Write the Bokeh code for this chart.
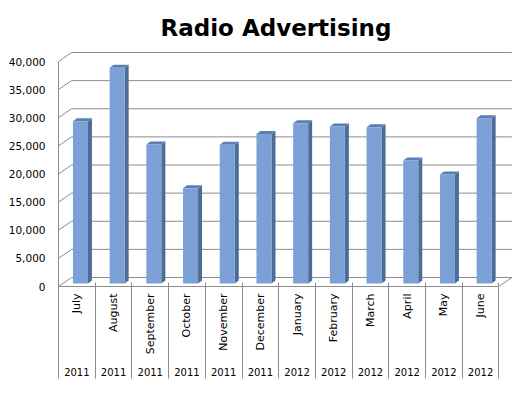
import math
from bokeh.plotting import figure
from bokeh.models import LinearAxis, FixedTicker, NumeralTickFormatter
from bokeh.embed import file_html
from bokeh.resources import INLINE

# ---------------- data ----------------
months = ["July", "August", "September", "October", "November", "December",
          "January", "February", "March", "April", "May", "June"]
years = ["2011", "2011", "2011", "2011", "2011", "2011",
         "2012", "2012", "2012", "2012", "2012", "2012"]
values = [28850, 38350, 24700, 16950, 24650, 26600,
          28500, 27900, 27800, 21850, 19400, 29400]
y_ticks = [0, 5000, 10000, 15000, 20000, 25000, 30000, 35000, 40000]

# ---------------- geometry / style ----------------
W, H = 526, 397
FRAME_L, FRAME_R, FRAME_T, FRAME_B = 58, 515, 48, 286
PX_PER_CAT = 36.7
PX_PER_VAL = 5.625 / 1000.0

n = len(months)
x_lo = -0.5
x_hi = x_lo + (FRAME_R - FRAME_L) / PX_PER_CAT
y_hi = (FRAME_B - FRAME_T) / PX_PER_VAL

back_dx = 13 / PX_PER_CAT
back_dy = 9 / PX_PER_VAL
bar_w = 15 / PX_PER_CAT
bar_off = 3.6 / PX_PER_CAT
side_dx = 4 / PX_PER_CAT
side_dy = 3 / PX_PER_VAL
bar_base = 3 / PX_PER_VAL
floor_stub = 5 / PX_PER_CAT

GRID = "#8c8c8c"
FRONT = "#7aa0d6"
SIDE = "#4d6c97"
TOP = "#5b7fb5"
FONT = "DejaVu Sans"

p = figure(width=W, height=H, x_range=(x_lo, x_hi), y_range=(0, y_hi),
           x_axis_type=None, y_axis_type=None, toolbar_location=None,
           output_backend="svg", min_border_left=FRAME_L,
           min_border_right=W - FRAME_R, min_border_top=FRAME_T,
           min_border_bottom=H - FRAME_B)
p.outline_line_color = None
p.background_fill_color = "white"
p.border_fill_color = "white"

p.title.text = "Radio Advertising"
p.title.text_font = FONT
p.title.text_font_style = "bold"
p.title.text_font_size = "23px"
p.title.text_color = "black"
p.title.align = "left"
p.title.offset = 102
p.title.standoff = 15

# back wall gridlines and left wall diagonals
x_right = x_lo + n
p.segment(x0=[x_lo + back_dx] * len(y_ticks), y0=[v + back_dy for v in y_ticks],
          x1=[x_right + back_dx] * len(y_ticks), y1=[v + back_dy for v in y_ticks],
          line_color=GRID, line_width=1)
p.segment(x0=[x_lo] * len(y_ticks), y0=y_ticks,
          x1=[x_lo + back_dx] * len(y_ticks), y1=[v + back_dy for v in y_ticks],
          line_color=GRID, line_width=1)
# floor right edge
p.segment(x0=[x_right], y0=[0], x1=[x_right + back_dx], y1=[back_dy],
          line_color=GRID, line_width=1)

# bars
xs = list(range(n))
lefts = [x + bar_off - bar_w / 2 for x in xs]
rights = [x + bar_off + bar_w / 2 for x in xs]
tops = [v + bar_base for v in values]

side_xs = [[r, r + side_dx, r + side_dx, r] for r in rights]
side_ys = [[bar_base, bar_base + side_dy, t + side_dy, t] for t in tops]
top_xs = [[l, r, r + side_dx, l + side_dx] for l, r in zip(lefts, rights)]
top_ys = [[t, t, t + side_dy, t + side_dy] for t in tops]

p.patches(side_xs, side_ys, fill_color=SIDE, line_color=None)
p.patches(top_xs, top_ys, fill_color=TOP, line_color=None)
p.quad(left=lefts, right=rights, bottom=[bar_base] * n, top=tops,
       fill_color=FRONT, line_color=None)

# y axis
yaxis = LinearAxis(ticker=FixedTicker(ticks=y_ticks, minor_ticks=[]),
                   formatter=NumeralTickFormatter(format="0,0"),
                   bounds=(0, y_ticks[-1]))
yaxis.major_tick_out = 0
yaxis.major_tick_in = 0
yaxis.minor_tick_out = 0
yaxis.minor_tick_in = 0
yaxis.axis_line_color = GRID
yaxis.major_label_text_font = FONT
yaxis.major_label_text_font_size = "10.5px"
yaxis.major_label_text_color = "black"
yaxis.major_label_standoff = 13
p.add_layout(yaxis, "left")

# month axis
month_axis = LinearAxis(ticker=FixedTicker(ticks=xs, minor_ticks=[]),
                        bounds=(x_lo - floor_stub, x_right))
month_axis.major_label_overrides = {i: m for i, m in enumerate(months)}
month_axis.major_label_orientation = math.pi / 2
month_axis.major_tick_out = 0
month_axis.major_tick_in = 0
month_axis.minor_tick_in = 0
month_axis.minor_tick_out = 0
month_axis.axis_line_color = GRID
month_axis.major_label_text_font = FONT
month_axis.major_label_text_font_size = "11px"
month_axis.major_label_text_color = "black"
month_axis.major_label_standoff = 7
p.add_layout(month_axis, "below")

# year axis
year_axis = LinearAxis(ticker=FixedTicker(ticks=xs, minor_ticks=[]))
year_axis.major_label_overrides = {i: y for i, y in enumerate(years)}
year_axis.major_tick_out = 0
year_axis.major_tick_in = 0
year_axis.minor_tick_out = 0
year_axis.minor_tick_in = 0
year_axis.axis_line_color = None
year_axis.major_label_text_font = FONT
year_axis.major_label_text_font_size = "10px"
year_axis.major_label_text_color = "black"
year_axis.major_label_standoff = 10
p.add_layout(year_axis, "below")

# separator axis (cell borders of the category table), ticks drawn inward
sep_axis = LinearAxis(ticker=FixedTicker(ticks=[], minor_ticks=[x - 0.5 for x in range(n + 1)]))
sep_axis.axis_line_color = None
sep_axis.major_tick_out = 0
sep_axis.major_tick_in = 0
sep_axis.minor_tick_out = 0
sep_axis.minor_tick_in = 96
sep_axis.minor_tick_line_color = GRID
sep_axis.major_label_text_font_size = "0px"
sep_axis.major_label_standoff = 0
p.add_layout(sep_axis, "below")

open("out.html", "w").write(file_html(p, INLINE))
